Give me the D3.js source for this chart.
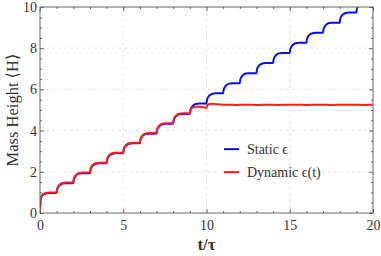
<!DOCTYPE html>
<html>
<head>
<meta charset="utf-8">
<script src="https://cdn.jsdelivr.net/npm/d3@7"></script>
<style>
  body { margin: 0; background: #fff; }
  text { font-family: "Liberation Serif", "DejaVu Serif", serif; fill: #333; }
</style>
</head>
<body>
<div id="chart"></div>
<script>
// sample times shared by both series up to t = 9.55
const tStatic = [
  0, 0.03, 0.1, 0.2, 0.35, 0.55,
  1, 1.03, 1.1, 1.2, 1.35, 1.55,
  2, 2.03, 2.1, 2.2, 2.35, 2.55,
  3, 3.03, 3.1, 3.2, 3.35, 3.55,
  4, 4.03, 4.1, 4.2, 4.35, 4.55,
  5, 5.03, 5.1, 5.2, 5.35, 5.55,
  6, 6.03, 6.1, 6.2, 6.35, 6.55,
  7, 7.03, 7.1, 7.2, 7.35, 7.55,
  8, 8.03, 8.1, 8.2, 8.35, 8.55,
  9, 9.03, 9.1, 9.2, 9.35, 9.55,
  10, 10.03, 10.1, 10.2, 10.35, 10.55,
  11, 11.03, 11.1, 11.2, 11.35, 11.55,
  12, 12.03, 12.1, 12.2, 12.35, 12.55,
  13, 13.03, 13.1, 13.2, 13.35, 13.55,
  14, 14.03, 14.1, 14.2, 14.35, 14.55,
  15, 15.03, 15.1, 15.2, 15.35, 15.55,
  16, 16.03, 16.1, 16.2, 16.35, 16.55,
  17, 17.03, 17.1, 17.2, 17.35, 17.55,
  18, 18.03, 18.1, 18.2, 18.35, 18.55,
  19, 19.03, 19.1, 19.2, 19.35, 19.55,
  20
];
const hStatic = [
  0, 0.62, 0.80, 0.89, 0.94, 0.97,
  0.97, 1.14, 1.27, 1.36, 1.43, 1.45,
  1.45, 1.62, 1.75, 1.84, 1.91, 1.93,
  1.93, 2.10, 2.23, 2.32, 2.39, 2.41,
  2.41, 2.58, 2.71, 2.81, 2.88, 2.90,
  2.90, 3.07, 3.20, 3.29, 3.36, 3.38,
  3.38, 3.54, 3.67, 3.77, 3.83, 3.85,
  3.85, 4.02, 4.15, 4.24, 4.31, 4.33,
  4.33, 4.50, 4.63, 4.72, 4.79, 4.81,
  4.81, 4.99, 5.12, 5.22, 5.29, 5.31,
  5.31, 5.49, 5.62, 5.72, 5.79, 5.81,
  5.81, 5.98, 6.11, 6.21, 6.28, 6.30,
  6.30, 6.47, 6.60, 6.70, 6.77, 6.79,
  6.79, 6.96, 7.09, 7.19, 7.26, 7.28,
  7.28, 7.45, 7.58, 7.68, 7.75, 7.77,
  7.77, 7.94, 8.07, 8.17, 8.24, 8.26,
  8.26, 8.43, 8.56, 8.66, 8.73, 8.75,
  8.75, 8.92, 9.05, 9.15, 9.22, 9.24,
  9.24, 9.41, 9.54, 9.64, 9.71, 9.73,
  9.73, 9.90, 10.03, 10.13, 10.20, 10.22,
  10.22
];

const tDynamic = [
  0, 0.03, 0.1, 0.2, 0.35, 0.55,
  1, 1.03, 1.1, 1.2, 1.35, 1.55,
  2, 2.03, 2.1, 2.2, 2.35, 2.55,
  3, 3.03, 3.1, 3.2, 3.35, 3.55,
  4, 4.03, 4.1, 4.2, 4.35, 4.55,
  5, 5.03, 5.1, 5.2, 5.35, 5.55,
  6, 6.03, 6.1, 6.2, 6.35, 6.55,
  7, 7.03, 7.1, 7.2, 7.35, 7.55,
  8, 8.03, 8.1, 8.2, 8.35, 8.55,
  9, 9.03, 9.1, 9.2, 9.35, 9.55, 9.8, 9.95,
  10, 10.03, 10.1, 10.2, 10.35, 10.55, 10.8,
  11, 11.25, 11.5, 11.75, 12, 12.25, 12.5, 12.75,
  13, 13.25, 13.5, 13.75, 14, 14.25, 14.5, 14.75,
  15, 15.25, 15.5, 15.75, 16, 16.25, 16.5, 16.75,
  17, 17.25, 17.5, 17.75, 18, 18.25, 18.5, 18.75,
  19, 19.25, 19.5, 19.75, 20
];
const hDynamic = [
  0, 0.65, 0.83, 0.92, 0.97, 1.00,
  1.00, 1.17, 1.30, 1.39, 1.46, 1.48,
  1.48, 1.65, 1.78, 1.87, 1.94, 1.96,
  1.96, 2.13, 2.26, 2.35, 2.42, 2.44,
  2.44, 2.61, 2.74, 2.84, 2.91, 2.93,
  2.93, 3.10, 3.23, 3.32, 3.39, 3.41,
  3.41, 3.57, 3.70, 3.80, 3.86, 3.88,
  3.88, 4.05, 4.18, 4.27, 4.34, 4.36,
  4.36, 4.53, 4.66, 4.75, 4.82, 4.84,
  4.84, 4.97, 5.07, 5.13, 5.16, 5.16, 5.13, 5.11,
  5.11, 5.20, 5.26, 5.29, 5.30, 5.28, 5.27,
  5.26, 5.25, 5.26, 5.24, 5.25, 5.25, 5.26, 5.25,
  5.24, 5.25, 5.26, 5.25, 5.25, 5.24, 5.25, 5.26,
  5.25, 5.25, 5.26, 5.25, 5.24, 5.25, 5.25, 5.26,
  5.25, 5.25, 5.24, 5.25, 5.26, 5.25, 5.25, 5.25,
  5.26, 5.25, 5.24, 5.25, 5.25
];

const xMajor = [0, 5, 10, 15, 20];
const yMajor = [0, 2, 4, 6, 8, 10];
const legendLabels = ["Static \u03f5", "Dynamic \u03f5(t)"];
const colours = ["#0a0aff", "#ff1c1c"];

const margin = { top: 7, right: 8, bottom: 43, left: 40 },
    width = 381 - margin.left - margin.right,
    height = 256 - margin.top - margin.bottom;

const svgContainer = d3.select("#chart").append("svg")
    .attr("width", 381)
    .attr("height", 256);

const svg = svgContainer.append("g")
    .attr("transform", `translate(${margin.left},${margin.top})`);

const x = d3.scaleLinear().domain([0, 20]).range([0, width]);
const y = d3.scaleLinear().domain([0, 10]).range([height, 0]);

// dashed grid
svg.append("g").selectAll("line").data(xMajor.slice(1, -1)).join("line")
    .attr("x1", d => x(d)).attr("x2", d => x(d))
    .attr("y1", 0).attr("y2", height)
    .attr("stroke", "#e6e6e6").attr("stroke-dasharray", "3,3");
svg.append("g").selectAll("line").data(yMajor.slice(1, -1)).join("line")
    .attr("y1", d => y(d)).attr("y2", d => y(d))
    .attr("x1", 0).attr("x2", width)
    .attr("stroke", "#e6e6e6").attr("stroke-dasharray", "3,3");

svg.append("clipPath").attr("id", "clip")
    .append("rect").attr("width", width).attr("height", height);

const line = d3.line()
    .x(d => x(d[0]))
    .y(d => y(d[1]))
    .curve(d3.curveMonotoneX);

const series = [
    d3.zip(tStatic, hStatic),
    d3.zip(tDynamic, hDynamic)
];

series.forEach((s, i) => {
    svg.append("path")
        .datum(s)
        .attr("clip-path", "url(#clip)")
        .attr("fill", "none")
        .attr("stroke", colours[i])
        .attr("stroke-width", 2)
        .attr("stroke-linejoin", "round")
        .attr("d", line);
});

// axes with inward ticks on all four sides
const styleAxis = g => {
    g.select(".domain").remove();
    g.selectAll("line").attr("stroke", "#666");
    g.selectAll("text").style("font-size", "14px").style("fill", "#333")
        .style("font-family", "'Liberation Serif', serif");
};

const xMinor = d3.range(0, 21).filter(d => d % 5 !== 0);
const yMinorTicks = d3.range(0, 10.01, 0.5).filter(d => d % 2 !== 0);

svg.append("g").attr("transform", `translate(0,${height})`)
    .call(d3.axisBottom(x).tickValues(xMajor).tickSize(-4).tickPadding(7).tickFormat(d3.format("d")))
    .call(styleAxis);
svg.append("g").attr("transform", `translate(0,${height})`)
    .call(d3.axisBottom(x).tickValues(xMinor).tickSize(-2).tickFormat(""))
    .call(styleAxis);
svg.append("g")
    .call(d3.axisTop(x).tickValues(xMajor).tickSize(-4).tickFormat(""))
    .call(styleAxis);
svg.append("g")
    .call(d3.axisTop(x).tickValues(xMinor).tickSize(-2).tickFormat(""))
    .call(styleAxis);

svg.append("g")
    .call(d3.axisLeft(y).tickValues(yMajor).tickSize(-4).tickPadding(3).tickFormat(d3.format("d")))
    .call(styleAxis);
svg.append("g")
    .call(d3.axisLeft(y).tickValues(yMinorTicks).tickSize(-2).tickFormat(""))
    .call(styleAxis);
svg.append("g").attr("transform", `translate(${width},0)`)
    .call(d3.axisRight(y).tickValues(yMajor).tickSize(-4).tickFormat(""))
    .call(styleAxis);
svg.append("g").attr("transform", `translate(${width},0)`)
    .call(d3.axisRight(y).tickValues(yMinorTicks).tickSize(-2).tickFormat(""))
    .call(styleAxis);

svg.append("rect")
    .attr("width", width).attr("height", height)
    .attr("fill", "none").attr("stroke", "#666").attr("stroke-width", 1);

// axis labels
svg.append("text")
    .attr("x", width / 2)
    .attr("y", height + 37)
    .attr("text-anchor", "middle")
    .style("font-size", "17px")
    .style("font-weight", "bold")
    .style("fill", "#333")
    .text("t/\u03c4");

svg.append("text")
    .attr("transform", "rotate(-90)")
    .attr("x", -height / 2)
    .attr("y", -22)
    .attr("text-anchor", "middle")
    .style("font-size", "16.5px")
    .style("fill", "#333")
    .text("Mass Height \u27e8H\u27e9");

// legend
const legend = svg.append("g").attr("transform", `translate(${x(11.05)},${y(3.10)})`);
legendLabels.forEach((lab, i) => {
    const row = legend.append("g").attr("transform", `translate(0,${i * 23})`);
    row.append("line")
        .attr("x1", 0).attr("x2", 15)
        .attr("stroke", colours[i]).attr("stroke-width", 2);
    row.append("text")
        .attr("x", 23).attr("y", 0).attr("dy", "0.35em")
        .style("font-size", "14px")
        .style("fill", "#333")
        .text(lab);
});
</script>
</body>
</html>
